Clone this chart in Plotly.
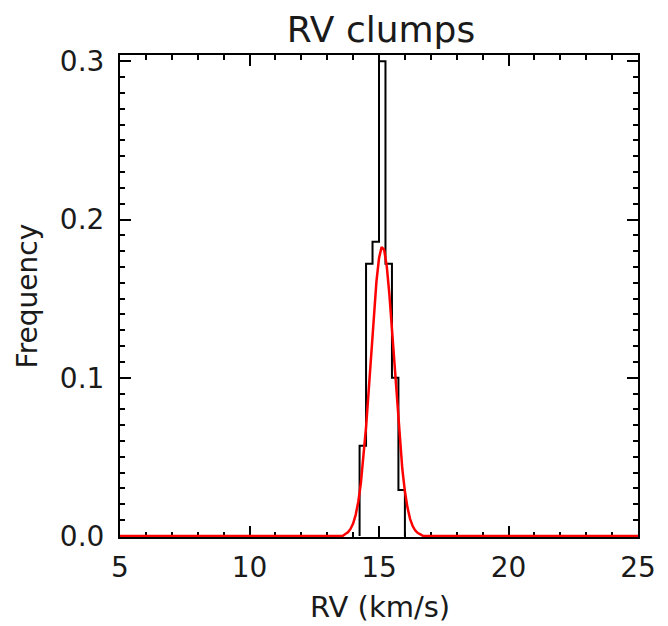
import plotly.graph_objects as go

# Histogram (bin edges in km/s, frequency per bin)
bin_edges = [14.25, 14.50, 14.75, 15.00, 15.25, 15.50, 15.75, 16.00]
frequency = [0.057, 0.172, 0.186, 0.300, 0.172, 0.100, 0.029]

# Red fitted curve
fit_x = [5.0, 13.6, 13.7, 13.8, 13.9, 14.0, 14.1, 14.2, 14.3, 14.4, 14.5, 14.6, 14.7,
         14.8, 14.9, 15.0, 15.1, 15.2, 15.3, 15.4, 15.5, 15.6, 15.7, 15.8, 15.9,
         16.0, 16.1, 16.2, 16.3, 16.4, 16.5, 16.6, 16.7, 25.0]
fit_y = [0.0, 0.0, 0.0012, 0.0023, 0.0044, 0.0078, 0.0133, 0.0216, 0.0334, 0.049,
         0.0687, 0.0914, 0.116, 0.140, 0.1606, 0.1755, 0.1826, 0.1808, 0.1704, 0.1529,
         0.1305, 0.1061, 0.082, 0.0604, 0.0423, 0.0282, 0.0179, 0.0108, 0.0062, 0.0034,
         0.0018, 0.0009, 0.0, 0.0]

x_ticks = [5, 10, 15, 20, 25]
y_ticks = [0.0, 0.1, 0.2, 0.3]
y_tick_labels = ["0.0", "0.1", "0.2", "0.3"]

# step outline of histogram
hx, hy = [bin_edges[0]], [0.0]
for i, f in enumerate(frequency):
    hx += [bin_edges[i], bin_edges[i + 1]]
    hy += [f, f]
hx.append(bin_edges[-1])
hy.append(0.0)

FONT = "DejaVu Sans"
TXT = "#1a1a1a"
L, R, T, B = 120, 22, 55, 89
PW, PH = 668 - L - R, 626 - T - B

fig = go.Figure()
fig.add_trace(go.Scatter(x=hx, y=hy, mode="lines",
                         line=dict(color="black", width=2), hoverinfo="skip"))
fig.add_trace(go.Scatter(x=fit_x, y=fit_y, mode="lines",
                         line=dict(color="#ff0000", width=2.5), hoverinfo="skip"))

fig.update_layout(
    width=668, height=626,
    margin=dict(l=L, r=R, t=T, b=B),
    paper_bgcolor="white", plot_bgcolor="white",
    showlegend=False,
    font=dict(family=FONT, size=28, color=TXT),
    title=dict(text="RV clumps", x=381 / 668, xanchor="center",
               y=1 - 29 / 626, yanchor="middle",
               font=dict(family=FONT, size=36, color=TXT)),
    annotations=[
        dict(text="RV (km/s)", xref="paper", yref="paper",
             x=(384 - L) / PW, y=-(607 - (T + PH)) / PH,
             xanchor="center", yanchor="middle", showarrow=False,
             font=dict(family=FONT, size=29, color=TXT)),
        dict(text="Frequency", xref="paper", yref="paper",
             x=(26 - L) / PW, y=0.5, textangle=-90,
             xanchor="center", yanchor="middle", showarrow=False,
             font=dict(family=FONT, size=28, color=TXT)),
    ],
)
fig.update_xaxes(
    range=[5, 25], tickvals=x_ticks, ticktext=[str(v) for v in x_ticks],
    showgrid=False, zeroline=False, showline=True, linecolor="black", linewidth=2,
    mirror="allticks", ticks="inside", ticklen=11, tickwidth=2, tickcolor="black",
    minor=dict(dtick=1, ticks="inside", ticklen=5, tickwidth=2, tickcolor="black", showgrid=False),
    layer="below traces", ticklabelstandoff=4,
    tickfont=dict(family=FONT, size=28, color=TXT),
)
fig.update_yaxes(
    range=[-0.0007, 0.304], tickvals=y_ticks, ticktext=y_tick_labels,
    showgrid=False, zeroline=False, showline=True, linecolor="black", linewidth=2,
    mirror="allticks", ticks="inside", ticklen=11, tickwidth=2, tickcolor="black",
    minor=dict(dtick=0.01, ticks="inside", ticklen=5, tickwidth=2, tickcolor="black", showgrid=False),
    layer="below traces", ticklabelstandoff=8,
    tickfont=dict(family=FONT, size=28, color=TXT),
)

fig.write_html("out.html")
